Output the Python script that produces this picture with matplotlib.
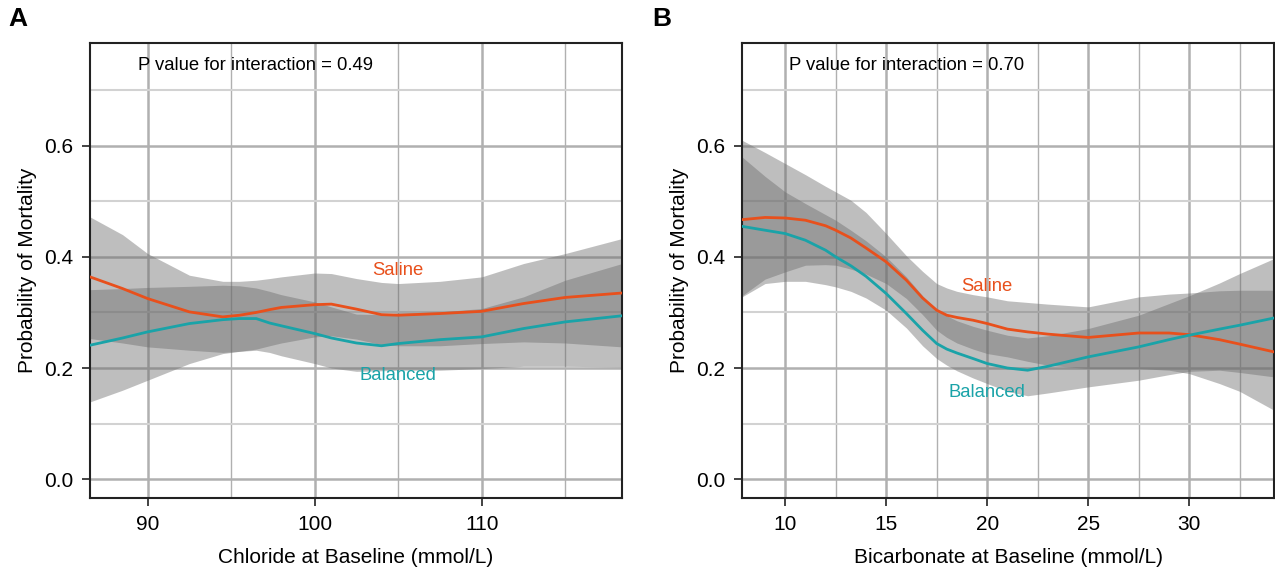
import matplotlib
matplotlib.use("Agg")
import matplotlib.pyplot as plt
from matplotlib.ticker import MultipleLocator, FormatStrFormatter

plt.rcParams['font.family'] = ['Liberation Sans', 'DejaVu Sans']

# ---------------- Panel A: chloride ----------------
chl_x = [86.55, 88.5, 90, 92.5, 94.5, 95.5, 96.5, 97.3, 98, 100, 101, 102.5, 104, 105, 107.5, 110, 112.5, 115, 118.4]
chl_saline = [0.364, 0.343, 0.325, 0.301, 0.292, 0.295, 0.300, 0.305, 0.309, 0.314, 0.315, 0.306, 0.296, 0.295, 0.298, 0.302, 0.316, 0.327, 0.335]
chl_balanced = [0.241, 0.254, 0.265, 0.280, 0.287, 0.289, 0.289, 0.281, 0.276, 0.262, 0.254, 0.245, 0.240, 0.244, 0.251, 0.256, 0.271, 0.283, 0.294]
chl_saline_hi = [0.472, 0.440, 0.406, 0.367, 0.356, 0.356, 0.358, 0.361, 0.364, 0.371, 0.370, 0.361, 0.354, 0.352, 0.356, 0.364, 0.388, 0.406, 0.433]
chl_saline_lo = [0.253, 0.245, 0.238, 0.232, 0.228, 0.230, 0.234, 0.240, 0.245, 0.256, 0.258, 0.252, 0.242, 0.240, 0.240, 0.244, 0.247, 0.245, 0.238]
chl_balanced_hi = [0.341, 0.343, 0.345, 0.347, 0.349, 0.348, 0.344, 0.338, 0.332, 0.319, 0.310, 0.297, 0.296, 0.299, 0.301, 0.307, 0.328, 0.358, 0.388]
chl_balanced_lo = [0.139, 0.160, 0.178, 0.208, 0.226, 0.230, 0.232, 0.228, 0.222, 0.208, 0.200, 0.194, 0.195, 0.196, 0.196, 0.199, 0.203, 0.203, 0.202]

# ---------------- Panel B: bicarbonate ----------------
bic_x = [7.86, 9, 10, 11, 12, 12.5, 13.25, 14, 15, 16, 16.8, 17.5, 18, 18.5, 19.3, 20, 21, 22, 23, 25, 27.5, 29, 30, 31.5, 32.5, 34.2]
bic_saline = [0.467, 0.471, 0.470, 0.466, 0.456, 0.448, 0.434, 0.416, 0.391, 0.358, 0.326, 0.304, 0.295, 0.291, 0.286, 0.280, 0.270, 0.265, 0.261, 0.255, 0.263, 0.263, 0.260, 0.251, 0.243, 0.229]
bic_balanced = [0.455, 0.448, 0.442, 0.430, 0.412, 0.400, 0.384, 0.365, 0.334, 0.298, 0.268, 0.244, 0.234, 0.227, 0.217, 0.208, 0.200, 0.196, 0.203, 0.220, 0.238, 0.251, 0.259, 0.270, 0.277, 0.290]
bic_saline_hi = [0.610, 0.588, 0.568, 0.548, 0.527, 0.517, 0.502, 0.480, 0.442, 0.402, 0.374, 0.352, 0.344, 0.338, 0.332, 0.328, 0.321, 0.318, 0.315, 0.310, 0.328, 0.333, 0.335, 0.339, 0.340, 0.340]
bic_saline_lo = [0.330, 0.360, 0.373, 0.385, 0.386, 0.385, 0.378, 0.369, 0.352, 0.325, 0.296, 0.268, 0.255, 0.245, 0.234, 0.226, 0.220, 0.212, 0.205, 0.199, 0.199, 0.196, 0.190, 0.172, 0.158, 0.124]
bic_balanced_hi = [0.580, 0.545, 0.517, 0.496, 0.476, 0.466, 0.448, 0.429, 0.400, 0.364, 0.330, 0.304, 0.294, 0.285, 0.275, 0.268, 0.259, 0.254, 0.258, 0.271, 0.295, 0.316, 0.330, 0.353, 0.370, 0.397]
bic_balanced_lo = [0.328, 0.352, 0.356, 0.356, 0.350, 0.346, 0.338, 0.326, 0.304, 0.272, 0.240, 0.217, 0.205, 0.195, 0.182, 0.172, 0.158, 0.150, 0.155, 0.166, 0.178, 0.188, 0.194, 0.196, 0.192, 0.184]

panel_letters = ["A", "B"]
x_labels = ["Chloride at Baseline (mmol/L)", "Bicarbonate at Baseline (mmol/L)"]
y_label = "Probability of Mortality"
p_texts = ["P value for interaction = 0.49", "P value for interaction = 0.70"]
series_names = ["Saline", "Balanced"]

ORANGE = "#E8501C"
TEAL = "#1AA3A8"
BAND = "#6d6d6d"
BAND_ALPHA = 0.44
GRID = "#b0b0b0"

fig = plt.figure(figsize=(12.75, 5.67), dpi=100)
axA = fig.add_axes([90/1275, 1-498/567, (622-90)/1275, (498-43)/567])
axB = fig.add_axes([742/1275, 1-498/567, (1274-742)/1275, (498-43)/567])

panels = [
    dict(ax=axA, x=chl_x, s=chl_saline, b=chl_balanced, shi=chl_saline_hi, slo=chl_saline_lo,
         bhi=chl_balanced_hi, blo=chl_balanced_lo, xlim=(86.55, 118.4), major=10, minor=5,
         sal_lab=(105, 0.376), bal_lab=(105, 0.186), p_pos=(89.4, 0.744)),
    dict(ax=axB, x=bic_x, s=bic_saline, b=bic_balanced, shi=bic_saline_hi, slo=bic_saline_lo,
         bhi=bic_balanced_hi, blo=bic_balanced_lo, xlim=(7.86, 34.2), major=5, minor=2.5,
         sal_lab=(20, 0.346), bal_lab=(20, 0.156), p_pos=(10.2, 0.744)),
]

for i, p in enumerate(panels):
    ax = p["ax"]
    ax.set_xlim(*p["xlim"])
    ax.set_ylim(-0.034, 0.785)
    ax.set_axisbelow(True)
    ax.xaxis.set_major_locator(MultipleLocator(p["major"]))
    ax.xaxis.set_minor_locator(MultipleLocator(p["minor"]))
    ax.yaxis.set_major_locator(MultipleLocator(0.2))
    ax.yaxis.set_minor_locator(MultipleLocator(0.1))
    ax.yaxis.set_major_formatter(FormatStrFormatter('%.1f'))
    ax.xaxis.grid(True, which='major', color=GRID, lw=1.8)
    ax.xaxis.grid(True, which='minor', color=GRID, lw=1.0)
    ax.yaxis.grid(True, which='major', color=GRID, lw=1.8)
    ax.yaxis.grid(True, which='minor', color="#d2d2d2", lw=1.5)

    ax.fill_between(p["x"], p["slo"], p["shi"], color=BAND, alpha=BAND_ALPHA, lw=0)
    ax.fill_between(p["x"], p["blo"], p["bhi"], color=BAND, alpha=BAND_ALPHA, lw=0)
    ax.plot(p["x"], p["s"], color=ORANGE, lw=2.0, zorder=3, solid_joinstyle='round')
    ax.plot(p["x"], p["b"], color=TEAL, lw=2.0, zorder=3, solid_joinstyle='round')

    ax.text(*p["sal_lab"], series_names[0], color=ORANGE, fontsize=13.3, ha='center', va='center')
    ax.text(*p["bal_lab"], series_names[1], color=TEAL, fontsize=13.3, ha='center', va='center')
    ax.text(*p["p_pos"], p_texts[i], color="black", fontsize=13.3, ha='left', va='center')

    for sp in ax.spines.values():
        sp.set_color("#222222")
        sp.set_linewidth(1.5)
    ax.tick_params(which='major', direction='out', length=6, width=1.2, color="#222222",
                   labelsize=15, pad=6)
    ax.tick_params(which='minor', length=0)
    ax.set_xlabel(x_labels[i], fontsize=15, labelpad=10)
    ax.set_ylabel(y_label, fontsize=15, labelpad=5)

fig.text(8/1275, 1-19/567, panel_letters[0], fontsize=19, fontweight='bold', ha='left', va='center')
fig.text(652/1275, 1-19/567, panel_letters[1], fontsize=19, fontweight='bold', ha='left', va='center')

fig.savefig("out.png", dpi=100)
